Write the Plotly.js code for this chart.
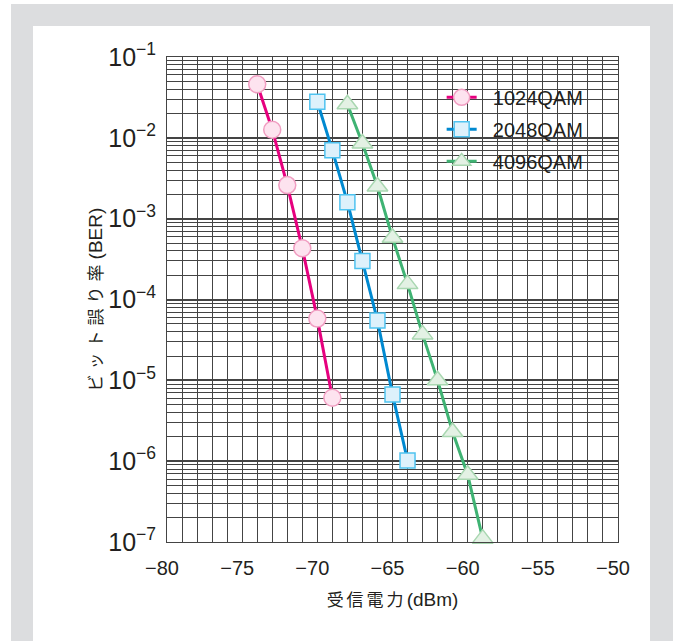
<!DOCTYPE html>
<html><head><meta charset="utf-8">
<script src="https://cdn.plot.ly/plotly-3.0.1.min.js"></script>
<style>
html,body{margin:0;padding:0;background:#fff;width:677px;height:641px;overflow:hidden;}
#bg{position:absolute;left:11px;top:4px;width:662px;height:700px;background:#dcdddf;}
#panel{position:absolute;left:33px;top:26px;width:617px;height:700px;background:#fff;}
#chart{position:absolute;left:0;top:0;width:677px;height:641px;}
</style></head>
<body>
<div id="bg"></div><div id="panel"></div><div id="chart"></div>
<script>
const seriesNames = ['1024QAM', '2048QAM', '4096QAM'];
const x1024 = [-74, -73, -72, -71, -70, -69];
const ber1024 = [4.6e-2, 1.26e-2, 2.6e-3, 4.3e-4, 5.8e-5, 6.1e-6];
const x2048 = [-70, -69, -68, -67, -66, -65, -64];
const ber2048 = [2.8e-2, 7.0e-3, 1.6e-3, 3.0e-4, 5.5e-5, 6.7e-6, 1.02e-6];
const x4096 = [-68, -67, -66, -65, -64, -63, -62, -61, -60, -59];
const ber4096 = [2.6e-2, 8.5e-3, 2.5e-3, 5.8e-4, 1.55e-4, 3.7e-5, 1.0e-5, 2.3e-6, 6.8e-7, 1.1e-7];
const xTitleJa = '受信電力', xTitleUnit = '(dBm)';
const yTitleJa = 'ビット誤り率', yTitleUnit = '(BER)';

const FONT = 'Liberation Sans, Arial, Noto Sans CJK JP, sans-serif';
const GRID = '#444444';

function tr(name, x, y, line, fill, edge, symbol, size) {
  return {
    type: 'scatter', mode: 'lines+markers', name: '\u00a0\u00a0' + name, legendgroup: name,
    x: x, y: y, cliponaxis: false,
    line: {color: line, width: 3},
    marker: {symbol: symbol, size: size, color: fill, line: {color: edge, width: 1.5}}
  };
}

const data = [
  tr(seriesNames[0], x1024, ber1024, '#e6007e', '#fde3ef', '#f19ec2', 'circle', 17),
  tr(seriesNames[1], x2048, ber2048, '#0089d0', '#ddf1fb', '#4fc3f0', 'square', 15),
  tr(seriesNames[2], x4096, ber4096, '#3fb373', '#e3f1e4', '#a9d7b1', 'triangle-up', 18)
];

const layout = {
  width: 677, height: 641,
  margin: {l: 167, r: 59, t: 57, b: 99},
  paper_bgcolor: 'rgba(0,0,0,0)', plot_bgcolor: '#ffffff',
  font: {family: FONT, color: '#231f20', size: 20},
  showlegend: true,
  xaxis: {
    range: [-80, -50], tick0: -80, dtick: 5, automargin: false,
    showgrid: true, gridcolor: GRID, gridwidth: 1,
    minor: {dtick: 1, showgrid: true, gridcolor: GRID, gridwidth: 1, ticks: ''},
    showline: true, mirror: true, linecolor: GRID, linewidth: 1,
    ticks: '', zeroline: false, tickfont: {size: 20, color: '#231f20'},
    ticklabelshift: -5, ticklabelstandoff: 8,
    title: {text: '<span style="letter-spacing:3px">' + xTitleJa + '</span><span style="font-size:19px">' + xTitleUnit + '</span>', font: {size: 17, color: '#231f20'}, standoff: 16}
  },
  yaxis: {
    type: 'log', range: [-7, -1], dtick: 1, automargin: false,
    exponentformat: 'power', showexponent: 'all',
    showgrid: true, gridcolor: GRID, gridwidth: 2,
    minor: {dtick: 'D1', showgrid: true, gridcolor: GRID, gridwidth: 1, ticks: ''},
    showline: true, mirror: true, linecolor: GRID, linewidth: 1,
    ticks: '', zeroline: false, tickfont: {size: 20, color: '#231f20'},
    ticklabelstandoff: 6,
    title: {text: '<span style="letter-spacing:5px">' + yTitleJa + '</span><span style="font-size:19px">' + yTitleUnit + '</span>', font: {size: 17, color: '#231f20'}, standoff: 1}
  },
  legend: {
    x: 0.609, y: 0.957, xanchor: 'left', yanchor: 'top',
    bgcolor: 'rgba(0,0,0,0)', borderwidth: 0,
    font: {size: 20, color: '#231f20'}, itemwidth: 30, tracegroupgap: 3
  },
  shapes: [{
    type: 'rect', xref: 'paper', yref: 'paper', layer: 'between',
    x0: 0.594, x1: 0.967, y0: 0.732, y1: 0.967,
    fillcolor: '#ffffff', line: {width: 0}
  }]
};

Plotly.newPlot('chart', data, layout, {displayModeBar: false, staticPlot: true});
</script>
</body></html>
